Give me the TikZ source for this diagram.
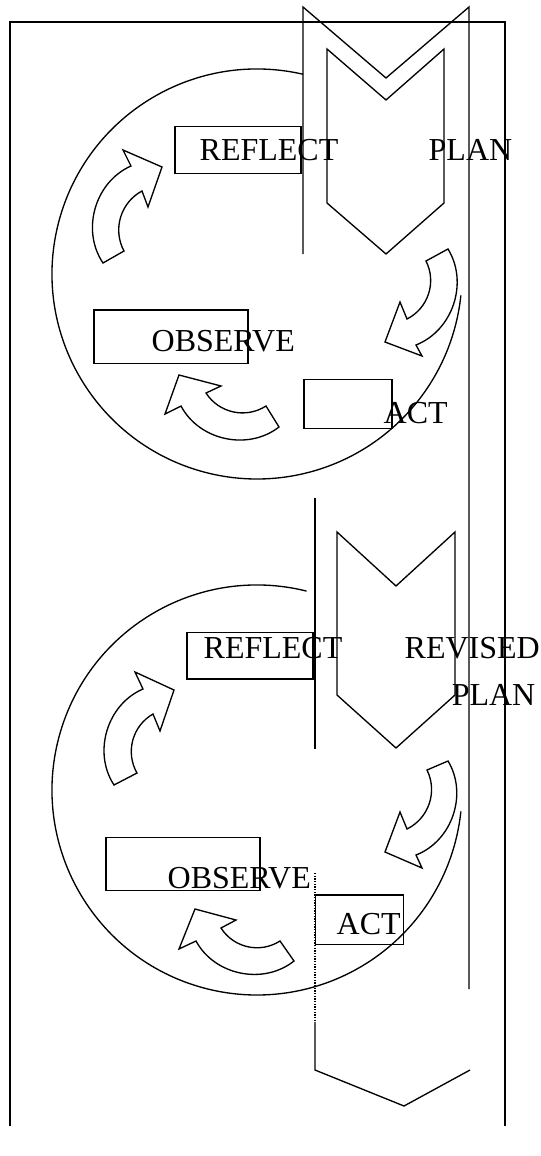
\documentclass[tikz,border=0pt]{standalone}
\usepackage{fontspec}
\setmainfont{Liberation Serif}
\tikzset{%
            base/.style = {rectangle, draw=black, line width=1pt,
                           inner sep=0pt},
  reflectbox/.style = {base, minimum width=94.5pt, minimum height=35pt},
  observebox/.style = {base, minimum width=115.5pt, minimum height=40pt},
      actbox/.style = {base, minimum width=66pt, minimum height=37pt},
        word/.style = {inner sep=0pt, anchor=base west,
                       font=\fontsize{24}{28}\selectfont},
}

\begin{document}
\begin{tikzpicture}[x=0.75pt, y=0.75pt, line width=1pt]
  \useasboundingbox (0,0) rectangle (541,-1156);

  % frame and the long arrow round both cycles
  \draw (10,-1126) -- (10,-22) -- (505,-22) -- (505,-1126);
  \draw (303,-254) -- (303,-7) -- (386,-78) -- (469,-7) -- (469,-989);
  \draw[densely dotted] (315,-873) -- (315,-1022);
  \draw (315,-1022) -- (315,-1070) -- (404,-1106) -- (470,-1070);

  % first cycle
  \draw (257,-274) ++(77:205) arc[start angle=77, end angle=354, radius=205];
  \draw (327,-49) -- (386,-100) -- (444,-49) -- (444,-203) -- (386,-254)
        -- (327,-203) -- cycle;

  \node (reflectbox1) [reflectbox] at (238,-150)   {};
  \node (observebox1) [observebox] at (171,-336.5) {};
  \node (actbox1)     [actbox]     at (348,-404)   {};

  \node (reflect1) [word] at (199,-160) {REFLECT};
  \node (plan1)    [word] at (428,-160) {PLAN};
  \node (observe1) [word] at (151,-351) {OBSERVE};
  \node (act1)     [word] at (383,-423) {ACT};

  \draw (103,-263) to[bend left=50] (131,-166) -- (123,-150) -- (162,-167)
        -- (148,-207) -- (142,-191) to[bend right=45] (124,-251) -- cycle;
  \draw (448,-249) to[bend left=50] (416,-345) -- (422,-356) -- (385,-342)
        -- (400,-302) -- (407,-319) to[bend right=45] (426,-261) -- cycle;
  \draw (279,-427) to[bend left=50] (181,-406) -- (165,-414) -- (179,-375)
        -- (221,-386) -- (206,-393) to[bend right=45] (266,-406) -- cycle;

  % second cycle
  \draw (315,-498) -- (315,-749);
  \draw (257,-790) ++(76:205) arc[start angle=76, end angle=354, radius=205];
  \draw (337,-532) -- (396,-586) -- (455,-532) -- (455,-695) -- (396,-748)
        -- (337,-695) -- cycle;

  \node (reflectbox2) [reflectbox] at (250,-655.5) {};
  \node (observebox2) [observebox] at (183,-864)   {};
  \node (actbox2)     [actbox]     at (359.5,-919.5) {};

  \node (reflect2) [word] at (203,-658) {REFLECT};
  \node (revised)  [word] at (404,-658) {REVISED};
  \node (plan2)    [word, anchor=base east] at (536,-705) {PLAN};
  \node (observe2) [word] at (167,-888) {OBSERVE};
  \node (act2)     [word] at (336,-934) {ACT};

  \draw (114,-785) to[bend left=50] (143,-689) -- (135,-672) -- (174,-690)
        -- (160,-731) -- (153,-714) to[bend right=45] (137,-773) -- cycle;
  \draw (448,-761) to[bend left=50] (416,-855) -- (422,-868) -- (385,-852)
        -- (400,-812) -- (407,-829) to[bend right=45] (427,-770) -- cycle;
  \draw (294,-961) to[bend left=50] (196,-941) -- (179,-949) -- (195,-909)
        -- (236,-920) -- (221,-928) to[bend right=45] (280,-941) -- cycle;
\end{tikzpicture}
\end{document}
